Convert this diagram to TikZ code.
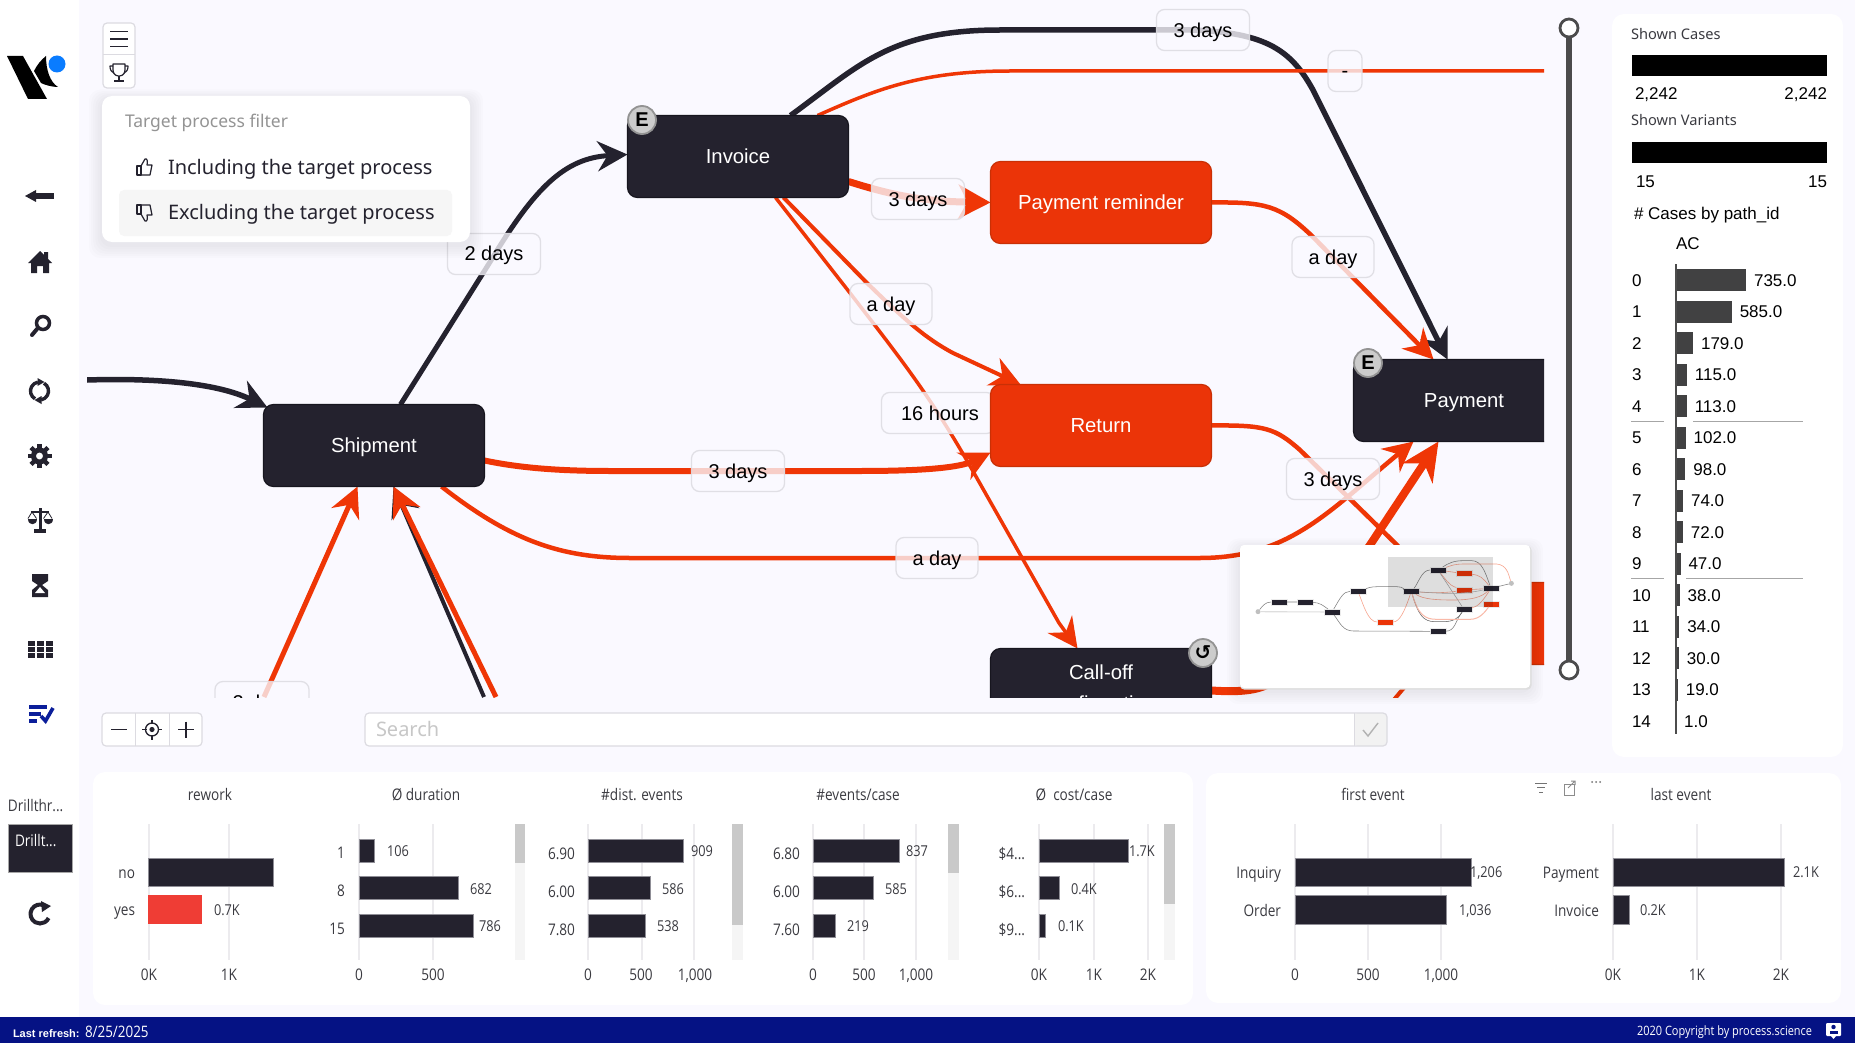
\documentclass[tikz,border=0pt]{standalone}
\usepackage{fontspec}
\usetikzlibrary{arrows.meta,calc}
\setmainfont{Liberation Sans}
\newfontfamily\uifont{Noto Sans}
\newfontfamily\chartfont[FakeStretch=0.85]{Open Sans}
\newfontfamily\symfont{DejaVu Sans}
\newcommand{\ff}[1]{\fontsize{#1}{#1}\selectfont}
\newcommand{\cf}[1]{\chartfont\fontsize{#1}{#1}\selectfont}
\newcommand{\uf}[1]{\uifont\fontsize{#1}{#1}\selectfont}
\definecolor{pagebg}{HTML}{FAF9FF}
\definecolor{ink}{HTML}{24222E}
\definecolor{inkedge}{HTML}{17161F}
\definecolor{orng}{HTML}{EF3606}
\definecolor{orngnode}{HTML}{EB3408}
\definecolor{orngedge}{HTML}{C93006}
\definecolor{navy}{HTML}{051284}
\definecolor{listblue}{HTML}{0B1E9A}
\definecolor{logoblue}{HTML}{0A7CFF}
\definecolor{barred}{HTML}{EF3D35}
\definecolor{gridc}{HTML}{ECEBEE}
\definecolor{barrim}{HTML}{8F8E96}
\definecolor{chartink}{HTML}{3A3A40}
\definecolor{lblrim}{HTML}{DEDDE3}
\definecolor{ctlrim}{HTML}{DCDBE1}
\newcounter{tn}
\pgfdeclarelayer{bg}
\pgfdeclarelayer{edges}
\pgfsetlayers{bg,edges,main}
\tikzset{
  tx/.style={inner sep=0pt,outer sep=0pt,text height=12pt,text depth=0pt},
  ct/.style={tx,text=chartink,font={\cf{16}},text height=10pt},
  ctk/.style={tx,text=chartink,font={\cf{16}}},
  cv/.style={tx,text=chartink,font={\cf{15}},text height=11pt},
  tt/.style={tx,text=black,font={\ff{17}}},
  proc/.style={rectangle,rounded corners=10pt,minimum width=221pt,minimum height=82pt,inner sep=0pt,outer sep=0pt,
    text height=14pt,text depth=0pt,text=white,font={\ff{20.3}},line width=1.2pt,anchor=north west},
  darkproc/.style={proc,fill=ink,draw=inkedge},
  hotproc/.style={proc,fill=orngnode,draw=orngedge},
  dur/.style={rectangle,rounded corners=8pt,fill=pagebg,fill opacity=.78,text opacity=1,draw=lblrim,draw opacity=.9,line width=1.3pt,
    minimum height=41pt,inner sep=0pt,outer sep=0pt,text height=14pt,text depth=0pt,font={\ff{20}},text=black},
  badge/.style={circle,fill=gray!40,draw=gray!85,line width=1.8pt,minimum size=28pt,inner sep=0pt,outer sep=0pt,text=black},
  bigtip/.style={-{Stealth[length=30pt,width=30pt,inset=10pt]}},
  dk/.style={draw=ink,bigtip,line join=round},
  og/.style={draw=orng,bigtip,line join=round},
  ogplain/.style={draw=orng,line join=round},
  mini/.style={rectangle,minimum width=16pt,minimum height=6pt,inner sep=0pt,outer sep=0pt,fill=ink,draw=black!8,line width=.6pt},
  minihot/.style={mini,fill=orngnode},
  miniedge/.style={draw=black!50,line width=.55pt},
  minihotedge/.style={draw=orng!45,line width=.6pt},
  icon/.style={fill=ink,draw=none},
  thin icon/.style={draw=ink,line width=1.2pt,fill=none,line join=round},
}
\newcommand{\txt}[4][]{\stepcounter{tn}\node[#1] (t\thetn) at (#2,#3) {#4};}
\newcommand{\softshadow}[4]{\foreach \s in {1,...,6}{\fill[black,opacity=.012,rounded corners=12pt] (#1-\s*2.2,#2-\s*1.6+3) rectangle (#3+\s*2.2,#4+\s*2.2+3);}}
\newcommand{\gridl}[1]{\draw[gridc,line width=1.5pt] (#1,824) -- (#1,960);}
\newcommand{\chartbar}[4]{\fill[ink] (#1,#2) rectangle (#3,#4);\draw[barrim,line width=1pt] (#1,#2) rectangle (#3,#4);}
\newcommand{\scrollb}[3]{\fill[black!4] (#1,824) rectangle (#2,960);\fill[black!21] (#1,824) rectangle (#2,#3);}
\begin{document}
\begin{tikzpicture}[x=1pt,y=-1pt]
\useasboundingbox (0,0) rectangle (1855,1043);
\begin{pgfonlayer}{bg}
  \fill[white] (0,0) rectangle (1855,1043);
  \fill[pagebg] (79,0) rectangle (1855,1043);
\end{pgfonlayer}

% ---------- process nodes
\begin{scope}
\clip (87,0) rectangle (1544,697);
\node[darkproc] (ship) at (263.5,404.5) {Shipment};
\node[darkproc] (inv) at (627.5,115.5) {Invoice};
\node[hotproc] (pr) at (990.5,161.5) {Payment reminder};
\node[hotproc] (ret) at (990.5,384.5) {Return};
\node[darkproc,minimum width=240pt] (pay) at (1353.5,359.5) {};
\node[tx,text height=14pt,text=white,font={\ff{20.3}}] (paytxt) at (1464,400) {Payment};
\node[darkproc] (cof) at (990.5,648.5) {};
\node[tx,text height=14pt,text=white,font={\ff{20.3}}] (coft) at (1101,672) {Call-off};
\node[tx,text height=14pt,text=white,font={\ff{20.3}}] (coft2) at (1101,703) {confirmation};
\node[hotproc] (rgt) at (1353.5,582.5) {};
\node[badge,font={\bfseries\ff{20}}] (einv) at (642,120) {E};
\node[badge,font={\bfseries\ff{20}}] (epay) at (1368,363) {E};
\node[badge,font={\symfont\bfseries\ff{20}}] (ucof) at (1203,653) {↺};
\end{scope}
\coordinate (in0) at (87,380);
\coordinate (out0) at (1544,71);
\coordinate (low1) at (264,697);
\coordinate (low2) at (484,697);
\coordinate (low3) at (496,697);
\coordinate (low4) at (1392,702);

% ---------- edges and their labels, underneath the nodes
\begin{pgfonlayer}{edges}
\begin{scope}
\clip (87,0) rectangle (1544,697);
\draw[dk,line width=5.5pt] (in0) .. controls (150,378) and (215,382) .. ([shift={(4,3)}]ship.north west);
\draw[dk,line width=5pt] ([shift={(137,0)}]ship.north west) -- (490,262) .. controls (535,187) and (565,158) .. ([shift={(0,39)}]inv.north west);
\draw[dk,line width=5.5pt] ([shift={(163,0)}]inv.north west) .. controls (860,65) and (890,30) .. (1000,30) -- (1190,30) .. controls (1268,32) and (1292,52) .. (1313,90) -- ([shift={(94,0)}]pay.north west);
\draw[ogplain,line width=3.5pt] ([shift={(190,0)}]inv.north west) .. controls (875,90) and (920,71) .. (1010,71) -- (out0);
\draw[og,line width=7pt,-{Stealth[length=32pt,width=34pt,inset=9pt]}] ([shift={(0,66)}]inv.north east) .. controls (885,193) and (920,202) .. (970,202) -- (pr.west);
\draw[og,line width=4.5pt] (pr.east) .. controls (1265,202) and (1280,205) .. (1313,237) -- ([shift={(80,0)}]pay.north west);
\draw[og,line width=4pt] ([shift={(156,0)}]inv.south west) -- (867,283) .. controls (905,320) and (925,338) .. (953,353) -- ([shift={(30,0)}]ret.north west);
\draw[og,line width=3.5pt] ([shift={(148,0)}]inv.south west) -- (850,293) .. controls (900,358) and (930,395) .. (974,473) -- (1059,623) -- ([shift={(87,0)}]cof.north west);
\draw[og,line width=6pt] ([shift={(0,56)}]ship.north east) .. controls (520,468) and (560,471) .. (610,471) -- (860,471) .. controls (920,471) and (960,468) .. ([shift={(0,68)}]ret.north west);
\draw[og,line width=4.5pt] ([shift={(178,0)}]ship.south west) .. controls (510,540) and (560,558) .. (630,558) -- (1200,558) .. controls (1290,558) and (1330,510) .. ([shift={(60,0)}]pay.south west);
\draw[ogplain,line width=4.5pt] ([shift={(0,41)}]ret.north east) .. controls (1265,425) and (1275,428) .. (1300,450) -- (1397,545) -- ([shift={(75,0)}]rgt.north west);
\draw[og,line width=8pt,-{Stealth[length=38pt,width=36pt,inset=12pt]}] ([shift={(0,42)}]cof.north east) .. controls (1235,692) and (1260,692) .. (1275,680) -- (1370,545) -- ([shift={(85,0)}]pay.south west);
\draw[ogplain,line width=4pt] (low4) -- ([shift={(70,0)}]rgt.south west);
\draw[og,line width=5pt] (low1) -- ([shift={(94,0)}]ship.south west);
\draw[dk,line width=4pt] (low2) -- ([shift={(130,0)}]ship.south west);
\draw[og,line width=5pt] (low3) -- ([shift={(130,0)}]ship.south west);
\node[dur,minimum width=93pt] (l1) at (494,254) {\raisebox{1pt}{2 days}};
\node[dur,minimum width=93pt] (l2) at (1203,30) {\raisebox{-1pt}{3 days}};
\node[dur,minimum width=34pt] (l3) at (1345,71) {-};
\node[dur,minimum width=93pt] (l4) at (918,199) {\raisebox{-1pt}{3 days}};
\node[dur,minimum width=82pt] (l5) at (1333,257) {a day};
\node[dur,minimum width=82pt] (l6) at (891,304) {a day};
\node[dur,minimum width=113pt] (l7) at (938,413) {\hspace*{4pt}16 hours};
\node[dur,minimum width=93pt] (l8) at (738,471) {3 days};
\node[dur,minimum width=82pt] (l9) at (937,558) {a day};
\node[dur,minimum width=93pt] (l10) at (1333,479) {3 days};
\node[dur,minimum width=94pt] (l11) at (262,702) {2 days};
\end{scope}
\end{pgfonlayer}

% ---------- slider
\draw[draw=black!70!pagebg,line width=6pt] (1569,28) -- (1569,670);
\node[circle,draw=black!70!pagebg,line width=2.8pt,fill=white,minimum size=18pt,inner sep=0pt] (sl1) at (1569,28) {};
\node[circle,draw=black!70!pagebg,line width=2.8pt,fill=white,minimum size=18pt,inner sep=0pt] (sl2) at (1569,670) {};

% ---------- left sidebar
\fill[black] (7,56) -- (23,56) -- (47,99) -- (28,99) -- cycle;
\fill[black] (34,71) .. controls (37,65) and (41,60) .. (46,56) .. controls (46,70) and (50,82) .. (58,87) .. controls (52,87) and (45,85) .. (41,83) -- cycle;
\fill[logoblue] (57,64) circle (8.5);
% back
\fill[icon] (33,193) rectangle (54,199);
\fill[icon] (25,196) -- (36,190) -- (36,202) -- cycle;
% home
\begin{scope}[shift={(40,262)}]
\fill[icon] (-12,1) -- (0,-11) -- (4,-7) -- (4,-10) -- (8,-10) -- (8,-3) -- (12,1) -- (9,1) -- (9,11) -- (3,11) -- (3,4) -- (-3,4) -- (-3,11) -- (-9,11) -- (-9,1) -- cycle;
\end{scope}
% search
\draw[ink,line width=3.5pt] (43,323) circle (6.5);
\draw[ink,line width=4pt,line cap=round] (37,329) -- (32,335);
% cycle
\begin{scope}[shift={(39.5,391)}]
\draw[ink,line width=3.4pt] (120:9) arc[start angle=120,end angle=260,radius=9];
\draw[ink,line width=3.4pt] (300:9) arc[start angle=300,end angle=440,radius=9];
\fill[icon] (-2,-13) -- (5,-9) -- (-2,-5) -- cycle;
\fill[icon] (2,13) -- (-5,9) -- (2,5) -- cycle;
\end{scope}
% gear
\begin{scope}[shift={(39.5,456)}]
\draw[ink,line width=5pt] (0,0) circle (6);
\foreach \a in {0,45,...,315}{\draw[ink,line width=4.5pt] (\a:7) -- (\a:12);}
\end{scope}
% scales
\begin{scope}[shift={(40,520)}]
\draw[ink,line width=3pt] (0,-12) -- (0,10);
\draw[ink,line width=3.5pt] (-6,11) -- (6,11);
\draw[ink,line width=2.2pt] (-9,-8) -- (9,-8);
\draw[ink,line width=.8pt] (-8,-8) -- (-12,-1.5) (-8,-8) -- (-3.5,-1.5) (8,-8) -- (12,-1.5) (8,-8) -- (3.5,-1.5);
\fill[icon] (-12.5,-1.5) -- (-3.5,-1.5) .. controls (-3.5,5.5) and (-12.5,5.5) .. (-12.5,-1.5) -- cycle;
\fill[icon] (12.5,-1.5) -- (3.5,-1.5) .. controls (3.5,5.5) and (12.5,5.5) .. (12.5,-1.5) -- cycle;
\end{scope}
% hourglass
\fill[icon] (32,574) -- (48,574) -- (48,581) -- (42,585) -- (48,590) -- (48,597) -- (32,597) -- (32,590) -- (38,585) -- (32,581) -- cycle;
\fill[white] (40,587) -- (45,593) -- (35,593) -- cycle;
% table
\foreach \cy in {641,647,653}{\foreach \cx in {28,37,46}{\fill[icon] (\cx,\cy) rectangle (\cx+7,\cy+5);}}
% list check
\draw[listblue,line width=3.6pt] (29,707) -- (47,707);
\draw[listblue,line width=3.6pt] (29,714) -- (41,714);
\draw[listblue,line width=3.6pt] (29,721) -- (37,721);
\draw[listblue,line width=3.6pt] (41,716) -- (45.5,721) -- (53,708);
\txt[tx,text=chartink,anchor=west,font={\cf{16}}]{8}{805}{Drillthr...}
\fill[black!35] (7.5,823.5) rectangle (72.5,872.5);
\node[rectangle,fill=ink,minimum width=63pt,minimum height=47pt,inner sep=0pt,outer sep=0pt] (drillbox) at (40,848) {};
\txt[tx,text=white,anchor=west,font={\cf{16}}]{15}{840}{Drillt...}
\begin{scope}[shift={(40,914)}]
\draw[ink,line width=4pt] (-60:9.5) arc[start angle=-60,end angle=-335,radius=9.5];
\fill[icon] (1,-13) -- (11,-8) -- (2,-2) -- cycle;
\end{scope}

% ---------- top left controls
\fill[white,rounded corners=4pt] (103,23) rectangle (135,88);
\draw[ctlrim,line width=1.2pt,rounded corners=4pt] (103,23) rectangle (135,88);
\draw[ctlrim,line width=1pt] (103,55) -- (135,55);
\foreach \ly in {31.5,39,46.5}{\draw[ink,line width=1.4pt] (110,\ly) -- (128,\ly);}
\begin{scope}[shift={(119,72)}]
\draw[thin icon] (-6,-8) -- (6,-8) -- (6,-2) .. controls (6,3) and (2,4) .. (0,4) .. controls (-2,4) and (-6,3) .. (-6,-2) -- cycle;
\draw[thin icon] (-6,-6) -- (-9,-6) .. controls (-9,-2) and (-8,-1) .. (-5,1);
\draw[thin icon] (6,-6) -- (9,-6) .. controls (9,-2) and (8,-1) .. (5,1);
\draw[thin icon] (0,4) -- (0,9);
\draw[thin icon] (-5,9) -- (5,9);
\end{scope}
\softshadow{102}{96}{470}{242}
\fill[white,rounded corners=10pt] (102,96) rectangle (470,242);
\fill[black!3.5,rounded corners=5pt] (119,190) rectangle (452,236);
\txt[tx,anchor=west,text=black!42,font={\uf{17.5}}]{125}{122}{Target process filter}
\txt[tx,anchor=west,text=ink,font={\uf{20}}]{168}{169}{Including the target process}
\txt[tx,anchor=west,text=ink,font={\uf{20}}]{168}{214}{Excluding the target process}
\begin{scope}[shift={(144,167)}]
\draw[thin icon] (-7,-1) rectangle (-3,8);
\draw[thin icon] (-3,-1) -- (1,-8) .. controls (3,-9) and (4,-6) .. (3,-2) -- (8,-2) -- (6,8) -- (-3,8);
\end{scope}
\begin{scope}[shift={(144,213)},yscale=-1]
\draw[thin icon] (-7,-1) rectangle (-3,8);
\draw[thin icon] (-3,-1) -- (1,-8) .. controls (3,-9) and (4,-6) .. (3,-2) -- (8,-2) -- (6,8) -- (-3,8);
\end{scope}

% ---------- zoom + search
\fill[white,rounded corners=4pt] (102,713) rectangle (202,746);
\draw[ctlrim,line width=1.2pt,rounded corners=4pt] (102,713) rectangle (202,746);
\draw[ctlrim,line width=1pt] (135.5,713) -- (135.5,746);
\draw[ctlrim,line width=1pt] (169,713) -- (169,746);
\draw[ink,line width=1.4pt] (111,729.5) -- (127,729.5);
\draw[ink,line width=1.4pt] (178,729.5) -- (194,729.5);
\draw[ink,line width=1.4pt] (186,721.5) -- (186,737.5);
\draw[ink,line width=1.3pt] (152,729.5) circle (6.5);
\fill[ink] (152,729.5) circle (2.6);
\foreach \a in {0,90,180,270}{\draw[ink,line width=1.3pt] ($(152,729.5)+(\a:5.5)$) -- ($(152,729.5)+(\a:10)$);}
\fill[white,rounded corners=4pt] (365,713) rectangle (1387,746);
\fill[black!5,rounded corners=4pt] (1354,713) rectangle (1387,746);
\draw[ctlrim,line width=1.2pt,rounded corners=4pt] (365,713) rectangle (1387,746);
\draw[ctlrim,line width=1pt] (1354,713) -- (1354,746);
\txt[tx,anchor=west,text=black!22,font={\uf{20}}]{376}{730}{Search}
\draw[black!30,line width=1.4pt] (1363,730) -- (1368,736) -- (1378,723);

% ---------- minimap
\softshadow{1240}{545}{1530}{688}
\fill[black!13,rounded corners=4pt] (1240,546) rectangle (1531.5,689.5);
\fill[white,rounded corners=4pt] (1240,545) rectangle (1530,688);
\begin{scope}[shift={(1240,540)},scale=1/3]
\node[circle,fill=black!25,minimum size=5pt,inner sep=0pt] (mS) at (54,215) {};
\node[circle,fill=black!25,minimum size=5pt,inner sep=0pt] (mE) at (814,130) {};
\node[mini] (m1) at (117,186) {};
\node[mini] (m2) at (195,186) {};
\node[mini] (m3) at (276,216) {};
\node[mini] (m4) at (354,154) {};
\node[mini] (m5) at (514,154) {};
\node[mini] (m6) at (594,90) {};
\node[mini] (m7) at (753,145) {};
\node[mini] (m8) at (672,208) {};
\node[mini] (m9) at (594,274) {};
\node[minihot] (o1) at (672,101) {};
\node[minihot] (o2) at (672,150) {};
\node[minihot] (o3) at (435,246) {};
\node[minihot] (o4) at (753,192) {};
\draw[miniedge] (mS) .. controls (66,200) and (75,186) .. (m1);
\draw[miniedge] (m1) -- (m2);
\draw[miniedge] (m2) .. controls (240,188) and (250,197) .. (m3);
\draw[draw=black!13,line width=1.1pt] (mS) -- (m3);
\draw[miniedge] (m3) .. controls (300,175) and (310,154) .. (m4);
\draw[miniedge] (m4) .. controls (395,140) and (400,140) .. (430,140) -- (470,140) .. controls (490,140) and (495,150) .. (m5);
\draw[minihotedge] (m4) .. controls (370,195) and (385,246) .. (o3);
\draw[minihotedge] (o3) .. controls (480,246) and (495,210) .. (m5);
\draw[miniedge] (m3) .. controls (300,250) and (310,273) .. (340,273) -- (m9);
\draw[miniedge] (m9) .. controls (645,273) and (645,245) .. (m8);
\draw[miniedge] (m5) .. controls (535,130) and (545,90) .. (m6);
\draw[miniedge] (m6) .. controls (625,70) and (640,62) .. (670,62) -- (695,62) .. controls (725,62) and (735,95) .. (m7);
\draw[minihotedge] (m6) .. controls (625,80) and (640,72) .. (670,72) -- (770,72) .. controls (800,75) and (805,100) .. (mE);
\draw[minihotedge] (m6) -- (o1);
\draw[minihotedge] (o1) .. controls (720,105) and (730,115) .. (m7);
\draw[minihotedge] (m6) .. controls (615,115) and (625,135) .. (o2);
\draw[miniedge,draw=black!35] (m6) -- (m8);
\draw[minihotedge] (o2) -- (m7);
\draw[minihotedge] (m5) .. controls (560,158) and (610,160) .. (o2);
\draw[miniedge,draw=black!30] (m5) .. controls (600,160) and (660,165) .. (m7);
\draw[minihotedge] (m5) .. controls (550,178) and (590,180) .. (640,180) .. controls (700,180) and (725,170) .. (m7);
\draw[miniedge,draw=black!60] (m5) .. controls (535,225) and (550,245) .. (585,245) -- (610,245) .. controls (640,245) and (655,235) .. (m8);
\draw[draw=orng!35,line width=1pt] (m5) .. controls (535,225) and (555,238) .. (590,238) -- (690,238) .. controls (720,238) and (735,215) .. (o4);
\draw[minihotedge] (m8) .. controls (715,200) and (730,180) .. (m7);
\draw[miniedge] (m7) -- (mE);
\fill[black,fill opacity=.13] (444,50) rectangle (760,200);
\end{scope}

% ---------- right panel
\fill[white,rounded corners=12pt] (1612,14) rectangle (1843,757);
\txt[tx,anchor=west,text=chartink,font={\uf{14.6}}]{1631}{34}{Shown Cases}
\fill[black] (1632,55) rectangle (1827,76);
\txt[tt,anchor=west]{1635}{94}{2,242}
\txt[tt,anchor=east]{1827}{94}{2,242}
\txt[tx,anchor=west,text=chartink,font={\uf{14.6}}]{1631}{120}{Shown Variants}
\fill[black] (1632,142) rectangle (1827,163);
\txt[tt,anchor=west]{1636}{182}{15}
\txt[tt,anchor=east]{1827}{182}{15}
\txt[tt,anchor=west]{1634}{213}{\# Cases by path\_id}
\txt[tt,anchor=west]{1676}{243}{AC}
\draw[black!35,line width=1pt] (1631,421) -- (1664,421) (1693,421) -- (1803,421);
\draw[black!35,line width=1pt] (1631,578) -- (1664,578) (1686,578) -- (1803,578);
\foreach \i/\v/\vt in {0/735/735.0,1/585/585.0,2/179/179.0,3/115/115.0,4/113/113.0,5/102/102.0,6/98/98.0,7/74/74.0,8/72/72.0,9/47/47.0,10/38/38.0,11/34/34.0,12/30/30.0,13/19/19.0,14/1/1.0}{
  \pgfmathsetmacro\ry{280+31.5*\i}
  \pgfmathsetmacro\bw{\v*0.0953}
  \fill[black!74!pagebg] (1676,\ry-11) rectangle (1676+\bw,\ry+11);
  \txt[tt,anchor=west]{1632}{\ry}{\i}
  \txt[tt,anchor=west]{1684+\bw}{\ry}{\vt}
}
\draw[black!70,line width=2pt] (1676,264) -- (1676,734);

% ---------- bottom panels
\fill[white,rounded corners=12pt] (93,772) rectangle (1193,1005);
\fill[white,rounded corners=12pt] (1206,773) rectangle (1841,1003);

% rework
\txt[ct]{210}{795}{rework}
\gridl{149}\gridl{229}
\chartbar{148}{858}{273}{886}
\fill[barred] (148,895) rectangle (202,924);
\txt[ct,anchor=east]{135}{873}{no}
\txt[ct,anchor=east]{135}{910}{yes}
\txt[cv,anchor=west]{214}{910}{0.7K}
\txt[ctk]{149}{974}{0K}
\txt[ctk]{229}{974}{1K}

% duration
\txt[ct]{426}{795}{Ø duration}
\gridl{359}\gridl{433}
\scrollb{515}{525}{863}
\chartbar{359}{839}{374}{862}
\chartbar{359}{876}{458}{899}
\chartbar{359}{914}{473}{937}
\txt[ct,anchor=east]{345}{853}{1}
\txt[ct,anchor=east]{345}{891}{8}
\txt[ct,anchor=east]{345}{929}{15}
\txt[cv,anchor=west]{387}{851}{106}
\txt[cv,anchor=west]{470}{889}{682}
\txt[cv,anchor=west]{479}{926}{786}
\txt[ctk]{359}{974}{0}
\txt[ctk]{433}{974}{500}

% dist events
\txt[ct]{642}{795}{\#dist. events}
\gridl{588}\gridl{642}\gridl{694}
\scrollb{732}{743}{925}
\chartbar{588}{839}{683}{862}
\chartbar{588}{876}{650}{899}
\chartbar{588}{914}{645}{937}
\txt[ct,anchor=east]{575}{854}{6.90}
\txt[ct,anchor=east]{575}{892}{6.00}
\txt[ct,anchor=east]{575}{930}{7.80}
\txt[cv,anchor=west]{691}{851}{909}
\txt[cv,anchor=west]{662}{889}{586}
\txt[cv,anchor=west]{657}{926}{538}
\txt[ctk]{588}{974}{0}
\txt[ctk]{641}{974}{500}
\txt[ctk]{695}{974}{1,000}

% events per case
\txt[ct]{858}{795}{\#events/case}
\gridl{813}\gridl{864}\gridl{916}
\scrollb{948}{959}{873}
\chartbar{813}{839}{899}{862}
\chartbar{813}{876}{873}{899}
\chartbar{813}{914}{835}{937}
\txt[ct,anchor=east]{800}{854}{6.80}
\txt[ct,anchor=east]{800}{892}{6.00}
\txt[ct,anchor=east]{800}{930}{7.60}
\txt[cv,anchor=west]{906}{851}{837}
\txt[cv,anchor=west]{885}{889}{585}
\txt[cv,anchor=west]{847}{926}{219}
\txt[ctk]{813}{974}{0}
\txt[ctk]{864}{974}{500}
\txt[ctk]{916}{974}{1,000}

% cost
\txt[ct]{1074}{795}{Ø\ \ cost/case}
\gridl{1039}\gridl{1094}\gridl{1148}
\scrollb{1164}{1175}{904}
\chartbar{1039}{839}{1128}{862}
\chartbar{1039}{876}{1059}{899}
\chartbar{1039}{914}{1045}{937}
\txt[ct,anchor=east]{1025}{854}{\$4...}
\txt[ct,anchor=east]{1025}{892}{\$6...}
\txt[ct,anchor=east]{1025}{930}{\$9...}
\txt[cv,anchor=west]{1129}{851}{1.7K}
\txt[cv,anchor=west]{1071}{889}{0.4K}
\txt[cv,anchor=west]{1058}{926}{0.1K}
\txt[ctk]{1039}{974}{0K}
\txt[ctk]{1094}{974}{1K}
\txt[ctk]{1148}{974}{2K}

% first event
\txt[ct]{1373}{795}{first event}
\gridl{1295}\gridl{1368}\gridl{1441}
\chartbar{1295}{858}{1471}{886}
\chartbar{1295}{895}{1446}{924}
\txt[ct,anchor=east]{1281}{873}{Inquiry}
\txt[ct,anchor=east]{1281}{911}{Order}
\txt[cv,anchor=west]{1470}{872}{1,206}
\txt[cv,anchor=west]{1459}{910}{1,036}
\txt[ctk]{1295}{974}{0}
\txt[ctk]{1368}{974}{500}
\txt[ctk]{1441}{974}{1,000}

% last event
\txt[ct]{1681}{795}{last event}
\gridl{1613}\gridl{1697}\gridl{1781}
\chartbar{1613}{858}{1784}{886}
\chartbar{1613}{895}{1629}{924}
\txt[ct,anchor=east]{1599}{873}{Payment}
\txt[ct,anchor=east]{1599}{911}{Invoice}
\txt[cv,anchor=west]{1793}{872}{2.1K}
\txt[cv,anchor=west]{1640}{910}{0.2K}
\txt[ctk]{1613}{974}{0K}
\txt[ctk]{1697}{974}{1K}
\txt[ctk]{1781}{974}{2K}

% small chart toolbar
\draw[black!55,line width=1pt] (1535,783) -- (1547,783) (1537,787.5) -- (1545,787.5) (1539,792) -- (1543,792);
\draw[black!45,line width=1pt] (1564,784) rectangle (1574,795);
\draw[black!45,line width=1pt] (1568,788) -- (1575,781) (1571,781) -- (1575,781) -- (1575,785);
\foreach \dx in {1592,1596,1600}{\fill[black!55] (\dx,782) circle (1);}

% ---------- footer
\fill[navy] (0,1017) rectangle (1855,1043);
\txt[tx,anchor=west,text=white,font={\bfseries\ff{11}}]{13}{1031}{Last refresh:}
\txt[tx,anchor=west,text=white,font={\cf{15.8}}]{85}{1031}{8/25/2025}
\txt[tx,anchor=east,text=white,font={\cf{12.9}}]{1812}{1029}{2020 Copyright by process.science}
\fill[white,rounded corners=1pt] (1826,1023) rectangle (1841,1036);
\fill[white] (1831,1036) -- (1836,1036) -- (1833.5,1039) -- cycle;
\fill[navy] (1833.5,1027) circle (2.2);
\fill[navy] (1829.5,1034) rectangle (1837.5,1031);
\end{tikzpicture}
\end{document}
